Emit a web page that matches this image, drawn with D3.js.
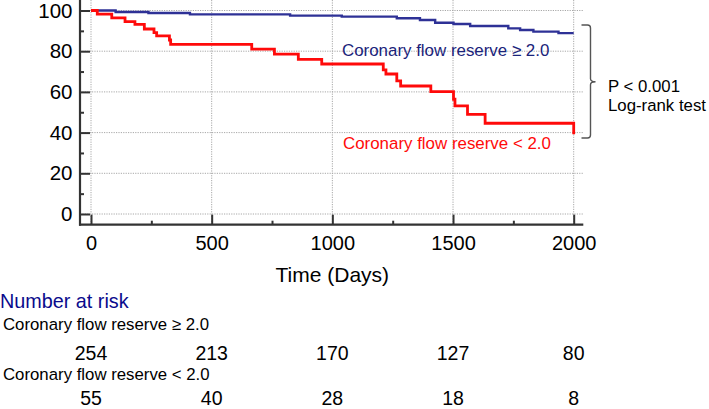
<!DOCTYPE html>
<html><head><meta charset="utf-8">
<script src="https://cdn.jsdelivr.net/npm/d3@7"></script>
<style>body{margin:0;background:#fff;}svg{display:block;font-family:"Liberation Sans",Arial,sans-serif;}</style>
</head><body>
<svg id="c" width="709" height="409"></svg>
<script>
// ---- data ----
const blueTimes = [0, 102, 238, 410, 825, 1039, 1267, 1363, 1426, 1502, 1571, 1729, 1778, 1833, 1937, 2000];
const blueSurv  = [100, 99.3, 98.8, 98.1, 97.5, 97.0, 96.2, 95.3, 94.0, 93.4, 92.4, 91.2, 90.4, 89.6, 88.9, 88.9];
const redTimes  = [0, 26, 86, 141, 182, 221, 261, 272, 325, 330, 666, 760, 859, 956, 1211, 1222, 1267, 1283, 1408, 1502, 1508, 1560, 1633, 2000];
const redSurv   = [100, 98.2, 96.4, 94.5, 93.2, 90.9, 89.1, 87.5, 85.5, 83.4, 81.0, 78.6, 76.0, 73.7, 70.8, 68.8, 65.4, 62.9, 60.1, 56.4, 53.1, 49.0, 44.6, 39.2];
const xTicks = [0, 500, 1000, 1500, 2000];
const xMinor = [250, 750, 1250, 1750];
const yTicks = [0, 20, 40, 60, 80, 100];
const yMinor = [10, 30, 50, 70, 90];
const seriesNames = ["Coronary flow reserve \u2265 2.0", "Coronary flow reserve < 2.0"];
const riskTimes = [0, 500, 1000, 1500, 2000];
const riskHigh = [254, 213, 170, 127, 80];
const riskLow  = [55, 40, 28, 18, 8];
const pText = ["P < 0.001", "Log-rank test"];

// ---- drawing ----
const svg = d3.select("#c");
const x = d3.scaleLinear().domain([0, 2000]).range([91, 573.7]);
const y = d3.scaleLinear().domain([0, 100]).range([214, 10.5]);
const axisY = 224.7, axisX = 80;
const xEnd = x.invert(583.3), yTop = y.invert(0);

// grid
const grid = svg.append("g").attr("stroke", "#a8a8a8").attr("stroke-width", 1).attr("stroke-dasharray", "1.2,1.2");
grid.selectAll(".gv").data(xTicks).join("line")
  .attr("x1", d => x(d)).attr("x2", d => x(d)).attr("y1", 0).attr("y2", axisY);
grid.selectAll(".gh").data(yTicks).join("line")
  .attr("x1", axisX).attr("x2", x(xEnd)).attr("y1", d => y(d)).attr("y2", d => y(d));

// curves
const line = d3.line().curve(d3.curveStepAfter).x(d => x(d[0])).y(d => y(d[1]));
svg.append("path").datum(d3.zip(blueTimes, blueSurv)).attr("d", line)
  .attr("fill", "none").attr("stroke", "#2e3196").attr("stroke-width", 2.4);
svg.append("path").datum(d3.zip(redTimes, redSurv)).attr("d", line)
  .attr("fill", "none").attr("stroke", "#ff0a0a").attr("stroke-width", 2.8);

// axes
const xa = svg.append("g").attr("transform", `translate(0,${axisY})`)
  .call(d3.axisBottom(x).tickValues(xTicks).tickSize(-10).tickPadding(11).tickFormat(d3.format("d")));
const xm = svg.append("g").attr("transform", `translate(0,${axisY})`)
  .call(d3.axisBottom(x).tickValues(xMinor).tickSize(-4).tickFormat(""));
const ya = svg.append("g").attr("transform", `translate(${axisX},0)`)
  .call(d3.axisLeft(y).tickValues(yTicks).tickSize(-10).tickPadding(7.5).tickFormat(d3.format("d")));
const ym = svg.append("g").attr("transform", `translate(${axisX},0)`)
  .call(d3.axisLeft(y).tickValues(yMinor).tickSize(-4).tickFormat(""));
[xa, xm, ya, ym].forEach(g => {
  g.select(".domain").remove();
  g.selectAll(".tick line").attr("stroke", "#333").attr("stroke-width", 2);
  g.selectAll("text").attr("fill", "#000").attr("font-family", "Liberation Sans, Arial, sans-serif");
});
xa.selectAll("text").attr("font-size", 20);
ya.selectAll("text").attr("font-size", 20.5);
svg.append("line").attr("x1", axisX - 1).attr("x2", x(xEnd)).attr("y1", axisY).attr("y2", axisY)
  .attr("stroke", "#333").attr("stroke-width", 2.2);
svg.append("line").attr("x1", axisX).attr("x2", axisX).attr("y1", y(yTop)).attr("y2", axisY + 1)
  .attr("stroke", "#333").attr("stroke-width", 2.2);

svg.append("text").attr("x", x(1000)).attr("y", 281.5).attr("text-anchor", "middle")
  .attr("font-size", 21).text("Time (Days)");

// series labels
svg.append("text").attr("x", 342).attr("y", 55.5).attr("font-size", 16.9).attr("fill", "#1a237a").text(seriesNames[0]);
svg.append("text").attr("x", 343).attr("y", 148.5).attr("font-size", 16.9).attr("fill", "#ff0a0a").text(seriesNames[1]);

// brace
const bx = 590.5, bt = 25, bb = 138, bm = 81.7;
svg.append("path")
  .attr("d", `M581.5,${bt} L${bx-3},${bt} Q${bx},${bt} ${bx},${bt+3} L${bx},${bm-3} Q${bx},${bm} ${bx+5},${bm} Q${bx},${bm} ${bx},${bm+3} L${bx},${bb-3} Q${bx},${bb} ${bx-3},${bb} L581.5,${bb}`)
  .attr("fill", "none").attr("stroke", "#555").attr("stroke-width", 1.4);
svg.append("text").attr("x", 608).attr("y", 91.5).attr("font-size", 16.8).text(pText[0]);
svg.append("text").attr("x", 608).attr("y", 111).attr("font-size", 16.8).text(pText[1]);

// number at risk
svg.append("text").attr("x", 0).attr("y", 308).attr("font-size", 19.8).attr("fill", "#0a0a8c").text("Number at risk");
svg.append("text").attr("x", 3).attr("y", 329.5).attr("font-size", 16.8).text(seriesNames[0]);
svg.append("text").attr("x", 3).attr("y", 380).attr("font-size", 16.8).text(seriesNames[1]);
svg.append("g").selectAll("text").data(d3.zip(riskTimes, riskHigh)).join("text")
  .attr("x", d => x(d[0])).attr("y", 359.5).attr("text-anchor", "middle").attr("font-size", 19.5).text(d => d[1]);
svg.append("g").selectAll("text").data(d3.zip(riskTimes, riskLow)).join("text")
  .attr("x", d => x(d[0])).attr("y", 404.5).attr("text-anchor", "middle").attr("font-size", 19.5).text(d => d[1]);
</script>
</body></html>
